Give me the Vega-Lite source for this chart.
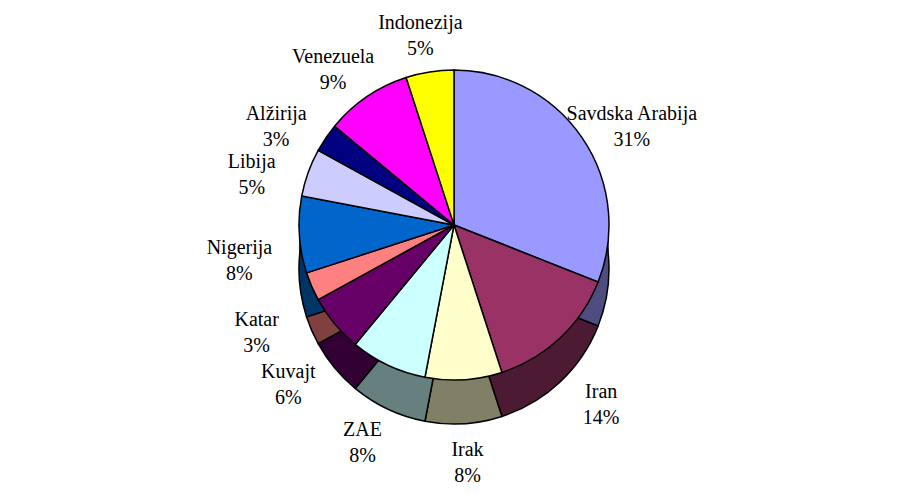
{
  "$schema": "https://vega.github.io/schema/vega-lite/v6.json",
  "width": 908,
  "height": 494,
  "autosize": {"type": "fit", "contains": "padding"},
  "padding": 0,
  "background": "white",
  "view": {"stroke": null},
  "data": {
    "values": [
      {"rank": 1, "country": "Savdska Arabija", "share": 0.31},
      {"rank": 2, "country": "Iran", "share": 0.14},
      {"rank": 3, "country": "Irak", "share": 0.08},
      {"rank": 4, "country": "ZAE", "share": 0.08},
      {"rank": 5, "country": "Kuvajt", "share": 0.06},
      {"rank": 6, "country": "Katar", "share": 0.03},
      {"rank": 7, "country": "Nigerija", "share": 0.08},
      {"rank": 8, "country": "Libija", "share": 0.05},
      {"rank": 9, "country": "Alžirija", "share": 0.03},
      {"rank": 10, "country": "Venezuela", "share": 0.09},
      {"rank": 11, "country": "Indonezija", "share": 0.05}
    ]
  },
  "encoding": {
    "theta": {"field": "share", "type": "quantitative", "stack": true},
    "order": {"field": "rank", "type": "quantitative"}
  },
  "layer": [
    {
      "mark": {"type": "arc", "outerRadius": 155, "yOffset": 0, "strokeWidth": 0},
      "encoding": {
        "color": {
          "field": "country", "type": "nominal", "legend": null,
          "scale": {
            "domain": ["Savdska Arabija", "Iran", "Irak", "ZAE", "Kuvajt", "Katar", "Nigerija", "Libija", "Alžirija", "Venezuela", "Indonezija"],
            "range": ["#4D4D80", "#4D1A33", "#808066", "#668080", "#330033", "#804040", "#003366", "#666680", "#000040", "#800080", "#808000"]
          }
        }
      }
    },
    {
      "mark": {"type": "arc", "outerRadius": 155, "yOffset": 22, "stroke": "black", "strokeWidth": 1.5},
      "encoding": {
        "color": {
          "field": "country", "type": "nominal", "legend": null,
          "scale": {
            "domain": ["Savdska Arabija", "Iran", "Irak", "ZAE", "Kuvajt", "Katar", "Nigerija", "Libija", "Alžirija", "Venezuela", "Indonezija"],
            "range": ["#4D4D80", "#4D1A33", "#808066", "#668080", "#330033", "#804040", "#003366", "#666680", "#000040", "#800080", "#808000"]
          }
        }
      }
    },
    {
      "mark": {"type": "arc", "outerRadius": 155, "yOffset": -22, "stroke": "black", "strokeWidth": 1.5},
      "encoding": {
        "color": {
          "field": "country", "type": "nominal", "legend": null,
          "scale": {
            "domain": ["Savdska Arabija", "Iran", "Irak", "ZAE", "Kuvajt", "Katar", "Nigerija", "Libija", "Alžirija", "Venezuela", "Indonezija"],
            "range": ["#9999FF", "#993366", "#FFFFCC", "#CCFFFF", "#660066", "#FF8080", "#0066CC", "#CCCCFF", "#000080", "#FF00FF", "#FFFF00"]
          }
        }
      }
    },
    {
      "mark": {"type": "text", "radius": 215, "dy": -12, "font": "Liberation Serif", "fontSize": 20, "fill": "black"},
      "encoding": {"text": {"field": "country", "type": "nominal"}}
    },
    {
      "mark": {"type": "text", "radius": 215, "dy": 14, "font": "Liberation Serif", "fontSize": 20, "fill": "black"},
      "encoding": {"text": {"field": "share", "type": "quantitative", "format": ".0%"}}
    }
  ],
  "resolve": {"scale": {"color": "independent"}}
}
